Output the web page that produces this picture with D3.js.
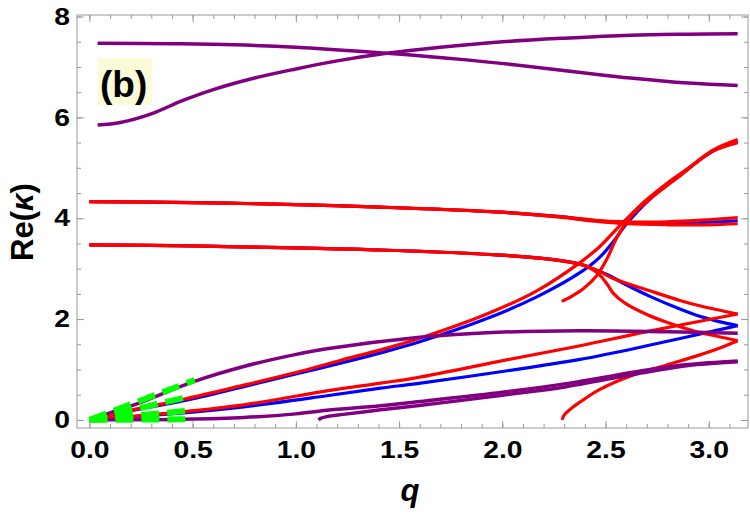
<!DOCTYPE html>
<html>
<head>
<meta charset="utf-8">
<script src="https://cdn.jsdelivr.net/npm/d3@7"></script>
<style>
  body { margin: 0; background: #fff; }
  svg { display: block; font-family: "Liberation Sans", Arial, sans-serif; }
</style>
</head>
<body>
<div id="chart"></div>
<script>
// dispersion branches as [q, Re(kappa)] pairs

// two purple branches at the top
var purpleTopFalling = [[0.04,7.47],[0.4,7.46],[0.7,7.44],[1.0,7.39],[1.44,7.27],[1.8,7.15],[2.13,7.01],[2.4,6.88],[2.62,6.78],[2.9,6.68],[3.14,6.63]];
var purpleTopRising = [[0.04,5.85],[0.15,5.9],[0.3,6.07],[0.45,6.33],[0.6,6.55],[0.8,6.78],[1.0,6.96],[1.2,7.12],[1.44,7.27],[1.7,7.39],[1.97,7.49],[2.3,7.57],[2.62,7.63],[2.9,7.65],[3.14,7.66]];

// band near 4.3 (red, blue, red on top of each other)
var band4Red1 = [[0,4.33],[0.5,4.31],[1.0,4.27],[1.41,4.22],[1.99,4.12],[2.28,4.03],[2.45,3.96],[2.6,3.93],[2.8,3.93],[3.0,3.97],[3.14,4.01]];
var band4Blue = [[0,4.33],[0.5,4.31],[1.0,4.27],[1.41,4.22],[1.99,4.12],[2.28,4.03],[2.45,3.95],[2.6,3.91],[2.8,3.9],[3.0,3.92],[3.14,3.95]];
var band4Red2 = [[0,4.33],[0.5,4.31],[1.0,4.27],[1.41,4.22],[1.99,4.12],[2.28,4.02],[2.45,3.94],[2.6,3.89],[2.8,3.87],[3.0,3.87],[3.14,3.89]];

// band near 3.45, splitting after the crossing
var band3RedUpper = [[0,3.47],[0.5,3.45],[1.0,3.41],[1.41,3.37],[1.99,3.27],[2.247,3.18],[2.376,3.09],[2.43,3.02],[2.474,2.94],[2.54,2.8],[2.715,2.56],[2.86,2.37],[2.96,2.26],[3.14,2.1]];
var band3Blue = [[0,3.47],[0.5,3.45],[1.0,3.41],[1.41,3.37],[1.99,3.27],[2.247,3.18],[2.376,3.09],[2.43,3.01],[2.51,2.88],[2.6,2.68],[2.715,2.45],[2.86,2.2],[2.96,2.05],[3.05,1.95],[3.14,1.87]];
var band3RedLower = [[0,3.47],[0.5,3.45],[1.0,3.41],[1.41,3.37],[1.99,3.27],[2.247,3.18],[2.376,3.09],[2.43,3.0],[2.47,2.88],[2.51,2.68],[2.54,2.5],[2.6,2.3],[2.7,2.09],[2.8,1.93],[2.94,1.75],[3.05,1.65],[3.14,1.57]];

// branches rising to about 5.5
var riseRed = [[0,0],[0.2,0.19],[0.457,0.41],[0.748,0.69],[1.0,0.94],[1.214,1.18],[1.41,1.39],[1.6,1.62],[1.925,2.1],[2.167,2.56],[2.376,3.12],[2.47,3.43],[2.55,3.77],[2.63,4.1],[2.7,4.37],[2.8,4.7],[2.9,4.99],[3.02,5.35],[3.14,5.56]];
var riseBlue = [[0,0],[0.2,0.18],[0.457,0.38],[0.748,0.66],[1.0,0.91],[1.28,1.19],[1.41,1.33],[1.6,1.55],[1.925,2.01],[2.167,2.44],[2.376,2.92],[2.47,3.22],[2.54,3.55],[2.6,3.88],[2.715,4.38],[2.86,4.85],[3.02,5.33],[3.14,5.52]];
var riseRedLate = [[2.288,2.35],[2.34,2.46],[2.392,2.6],[2.457,2.86],[2.51,3.22],[2.555,3.62],[2.62,4.02],[2.715,4.38],[2.86,4.84],[3.02,5.33],[3.14,5.5]];

// lower branches
var midPurple = [[0,0],[0.1,0.14],[0.263,0.37],[0.505,0.76],[0.748,1.06],[0.99,1.29],[1.15,1.41],[1.6,1.64],[1.925,1.73],[2.376,1.77],[2.8,1.75],[3.14,1.72]];
var lowRed = [[0,0],[0.2,0.07],[0.457,0.165],[0.748,0.3],[1.15,0.575],[1.41,0.73],[1.587,0.84],[2.02,1.19],[2.376,1.47],[2.7,1.75],[3.14,2.1]];
var lowBlue = [[0,0],[0.2,0.06],[0.457,0.14],[0.748,0.26],[1.15,0.48],[1.41,0.63],[1.587,0.72],[2.0,0.96],[2.376,1.2],[2.7,1.47],[3.14,1.87]];
var bottomPurple = [[0,0],[0.2,0.004],[0.457,0.015],[0.748,0.05],[1.0,0.12],[1.15,0.19],[1.41,0.28],[1.587,0.36],[2.0,0.55],[2.31,0.72],[2.715,1.0],[2.9,1.1],[3.14,1.17]];
var latePurple = [[1.11,0],[1.12,0.03],[1.15,0.065],[1.23,0.11],[1.41,0.2],[1.587,0.28],[2.0,0.49],[2.31,0.66],[2.715,0.96],[2.9,1.08],[3.14,1.155]];
var lateRed = [[2.29,0],[2.3,0.1],[2.344,0.26],[2.4,0.42],[2.47,0.6],[2.634,0.89],[2.796,1.09],[2.957,1.29],[3.05,1.42],[3.14,1.57]];

// small-q green dashed approximations
var greenLines = [
  [[0,0],[0.51,0.79]],
  [[0,0],[0.47,0.45]],
  [[0,0],[0.47,0.18]],
  [[0,0],[0.47,0.012]]
];

var xTickLabels = ["0.0","0.5","1.0","1.5","2.0","2.5","3.0"];
var yTickLabels = ["0","2","4","6","8"];
var panelLabel = "(b)";

var width = 750, height = 523;
var svg = d3.select("#chart").append("svg")
  .attr("width", width)
  .attr("height", height);

var x = d3.scaleLinear().domain([-0.06, 3.19]).range([77, 748]);
var y = d3.scaleLinear().domain([-0.16, 8.03]).range([428, 15]);

var line = d3.line()
  .x(d => x(d[0]))
  .y(d => y(d[1]))
  .curve(d3.curveCatmullRom.alpha(0.5));

//frame with inward ticks on all four sides
var frameColor = "#9a9a9a";
var xMinor = d3.range(0, 3.2, 0.1).map(v => +v.toFixed(1));
var xMajor = xTickLabels.map(Number);
var yMinor = d3.range(0, 8.01, 0.5);
var yMajor = yTickLabels.map(Number);

function drawAxis(axis, tx, ty){
  var g = svg.append("g")
    .attr("transform", "translate(" + tx + "," + ty + ")")
    .call(axis);
  g.select(".domain").remove();
  g.selectAll(".tick line").attr("stroke", frameColor);
  return g;
}

drawAxis(d3.axisBottom(x).tickValues(xMinor).tickSize(-4).tickFormat(""), 0, 428);
drawAxis(d3.axisTop(x).tickValues(xMinor).tickSize(-4).tickFormat(""), 0, 15);
drawAxis(d3.axisLeft(y).tickValues(yMinor).tickSize(-4).tickFormat(""), 77, 0);
drawAxis(d3.axisRight(y).tickValues(yMinor).tickSize(-4).tickFormat(""), 748, 0);
drawAxis(d3.axisTop(x).tickValues(xMajor).tickSize(-7).tickFormat(""), 0, 15);
drawAxis(d3.axisRight(y).tickValues(yMajor).tickSize(-7).tickFormat(""), 748, 0);

var xg = drawAxis(d3.axisBottom(x).tickValues(xMajor).tickSize(-7).tickPadding(13)
  .tickFormat((d, i) => xTickLabels[i]), 0, 428);
var yg = drawAxis(d3.axisLeft(y).tickValues(yMajor).tickSize(-7).tickPadding(7)
  .tickFormat((d, i) => yTickLabels[i]), 77, 0);

//the original tick numbers are a little wider than Liberation Sans
[xg, yg].forEach(g => g.selectAll(".tick text")
  .attr("fill", "#000")
  .attr("transform", "scale(1.18,1)")
  .style("font-size", "24px")
  .style("font-weight", "bold")
  .style("font-family", "'Liberation Sans', Arial, sans-serif"));
yg.selectAll(".tick text").attr("x", -6);

svg.append("rect")
  .attr("x", 77).attr("y", 15)
  .attr("width", 748 - 77).attr("height", 428 - 15)
  .attr("fill", "none")
  .attr("stroke", frameColor)
  .attr("stroke-width", 1);

//curves, drawn in layers like the original
var plot = svg.append("g");
var blueCurves = [band4Blue, band3Blue, riseBlue, lowBlue];
var redCurves = [band4Red1, band4Red2, band3RedUpper, band3RedLower, riseRed, riseRedLate, lowRed, lateRed];
var purpleCurves = [purpleTopFalling, purpleTopRising, midPurple, bottomPurple, latePurple];

function drawCurves(list, color, w){
  plot.append("g").selectAll("path")
    .data(list).enter().append("path")
      .attr("d", line)
      .attr("fill", "none")
      .attr("stroke", color)
      .attr("stroke-width", w)
      .attr("stroke-linecap", "butt");
}

drawCurves(blueCurves, "#0000ff", 3.2);
drawCurves(redCurves, "#ff0000", 3.2);
drawCurves(purpleCurves, "#800080", 3.5);

plot.append("g").selectAll("path")
  .data(greenLines).enter().append("path")
    .attr("d", d3.line().x(d => x(d[0])).y(d => y(d[1])))
    .attr("fill", "none")
    .attr("stroke", "#00ff00")
    .attr("stroke-width", 6)
    .attr("stroke-dasharray", "18,8");

//panel tag
svg.append("rect")
  .attr("x", 98).attr("y", 58)
  .attr("width", 54).attr("height", 47)
  .attr("fill", "#fcfbd8");
svg.append("text")
  .attr("x", 100).attr("y", 96.5)
  .style("font-size", "37px")
  .style("font-weight", "bold")
  .text(panelLabel);

//axis titles
svg.append("text")
  .attr("x", 410).attr("y", 501)
  .attr("text-anchor", "middle")
  .style("font-size", "31px")
  .style("font-weight", "bold")
  .style("font-style", "italic")
  .text("q");

var ylab = svg.append("text")
  .attr("transform", "translate(33,222) rotate(-90)")
  .attr("text-anchor", "middle")
  .style("font-size", "31px")
  .style("font-weight", "bold");
ylab.append("tspan").text("Re(");
ylab.append("tspan").style("font-style", "italic").text("κ");
ylab.append("tspan").text(")");
</script>
</body>
</html>
